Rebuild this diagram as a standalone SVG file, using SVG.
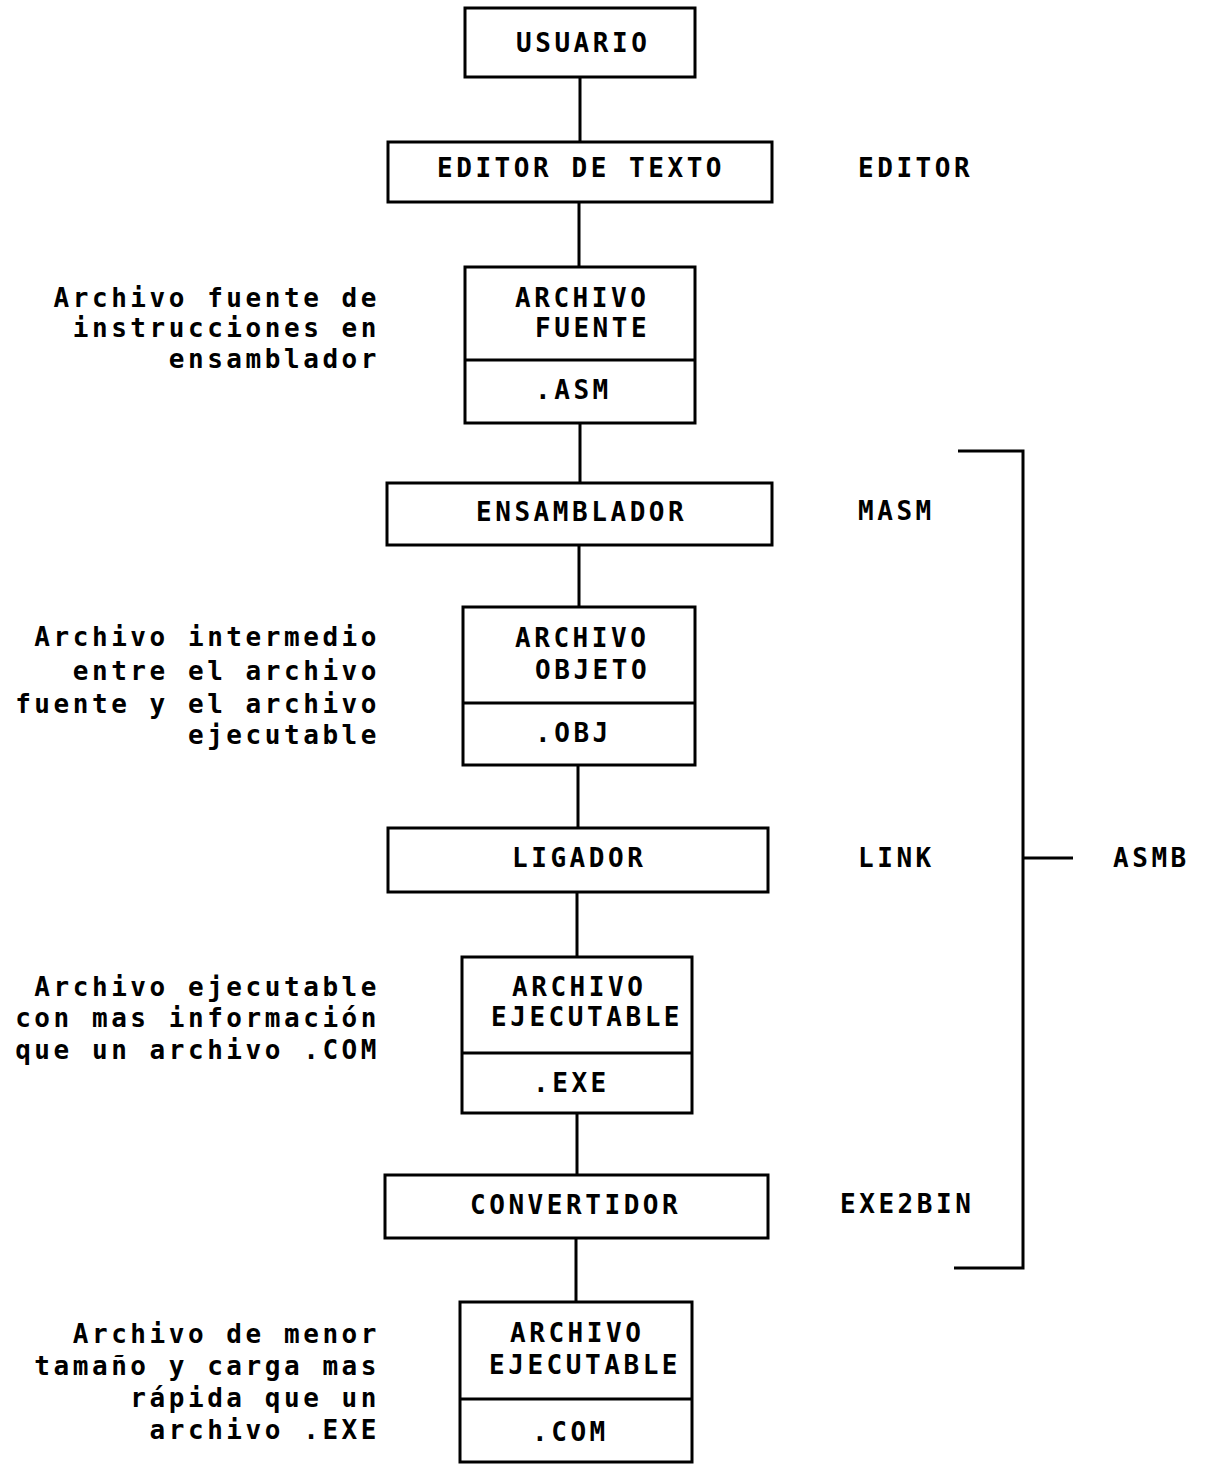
<svg xmlns="http://www.w3.org/2000/svg" width="1206" height="1464" viewBox="0 0 1206 1464">
<style>
.box{fill:none;stroke:#000;stroke-width:3}
.ln{fill:none;stroke:#000;stroke-width:3}
text{font-family:"DejaVu Sans Mono","Liberation Mono",monospace;font-size:26px;font-weight:bold;letter-spacing:3.55px;fill:#000}
.l{text-anchor:end}
</style>
<rect width="1206" height="1464" fill="#fff"/>
<g id="connectors">
<path class="ln" d="M580 77V142M579 202V267M580 423V483M579 545V607M578 765V828M577 892V957M577 1113V1175M576 1238V1302"/>
<path class="ln" d="M958 451H1023V1268H954M1023 858H1073"/>
</g>
<g id="usuario"><rect class="box" x="465" y="8" width="230" height="69"/><text x="516" y="52">USUARIO</text></g>
<g id="editor"><rect class="box" x="388" y="142" width="384" height="60"/><text x="437" y="177">EDITOR DE TEXTO</text></g>
<g id="fuente"><rect class="box" x="465" y="267" width="230" height="156"/><line class="box" x1="465" y1="360" x2="695" y2="360"/><text x="515" y="307">ARCHIVO</text><text x="535" y="337">FUENTE</text><text x="535" y="399">.ASM</text></g>
<g id="ensamblador"><rect class="box" x="387" y="483" width="385" height="62"/><text x="476" y="521">ENSAMBLADOR</text></g>
<g id="objeto"><rect class="box" x="463" y="607" width="232" height="158"/><line class="box" x1="463" y1="703" x2="695" y2="703"/><text x="515" y="647">ARCHIVO</text><text x="535" y="679">OBJETO</text><text x="535" y="742">.OBJ</text></g>
<g id="ligador"><rect class="box" x="388" y="828" width="380" height="64"/><text x="512" y="867">LIGADOR</text></g>
<g id="exe"><rect class="box" x="462" y="957" width="230" height="156"/><line class="box" x1="462" y1="1053" x2="692" y2="1053"/><text x="512" y="996">ARCHIVO</text><text x="491" y="1026">EJECUTABLE</text><text x="533" y="1092">.EXE</text></g>
<g id="convertidor"><rect class="box" x="385" y="1175" width="383" height="63"/><text x="470" y="1214">CONVERTIDOR</text></g>
<g id="com"><rect class="box" x="460" y="1302" width="232" height="160"/><line class="box" x1="460" y1="1399" x2="692" y2="1399"/><text x="510" y="1342">ARCHIVO</text><text x="489" y="1374">EJECUTABLE</text><text x="532" y="1441">.COM</text></g>
<g id="labels-right">
<text x="858" y="177">EDITOR</text>
<text x="858" y="520">MASM</text>
<text x="858" y="867">LINK</text>
<text x="840" y="1213">EXE2BIN</text>
<text x="1113" y="867">ASMB</text>
</g>
<g id="labels-left">
<text class="l" x="380" y="307">Archivo fuente de</text>
<text class="l" x="380" y="337">instrucciones en</text>
<text class="l" x="380" y="368">ensamblador</text>
<text class="l" x="380" y="646">Archivo intermedio</text>
<text class="l" x="380" y="680">entre el archivo</text>
<text class="l" x="380" y="713">fuente y el archivo</text>
<text class="l" x="380" y="744">ejecutable</text>
<text class="l" x="380" y="996">Archivo ejecutable</text>
<text class="l" x="380" y="1027">con mas información</text>
<text class="l" x="380" y="1059">que un archivo .COM</text>
<text class="l" x="380" y="1343">Archivo de menor</text>
<text class="l" x="380" y="1375">tamaño y carga mas</text>
<text class="l" x="380" y="1407">rápida que un</text>
<text class="l" x="380" y="1439">archivo .EXE</text>
</g>
</svg>
